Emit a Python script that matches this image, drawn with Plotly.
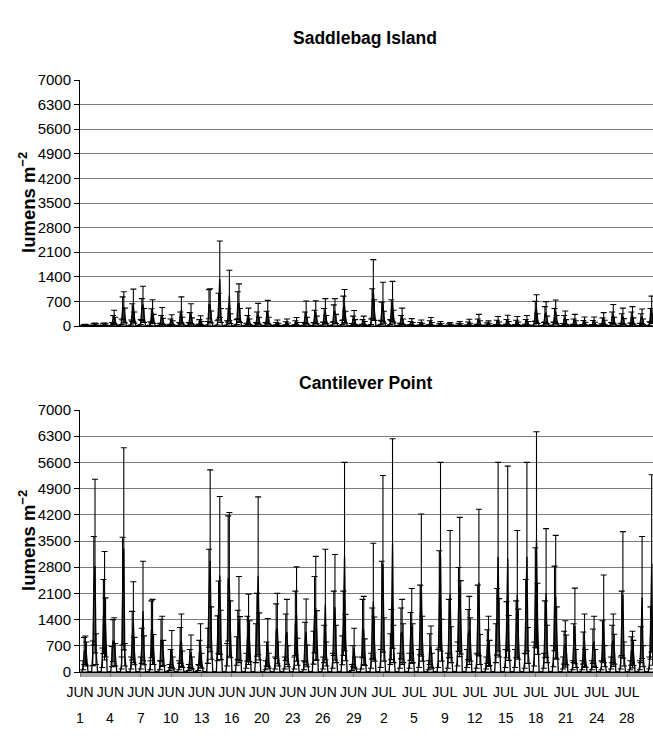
import plotly.graph_objects as go

# ---------------- data ----------------
MONTH_LABELS = ["JUN"] * 10 + ["JUL"] * 9
DAY_LABELS = ["1", "4", "7", "10", "13", "16", "20", "23", "26", "29",
              "2", "5", "9", "12", "15", "18", "21", "24", "28"]
N_DAYS = 60                    # JUN 1 ... JUL 30
HOURS = [8, 10.5, 13.5, 16]    # sampled daylight hours
DARK_HOURS = [5, 20]           # light is zero before / after these

# Saddlebag Island: hourly means and SD per day (4 daylight hours)
SADDLE_MEAN = [
    [10, 25, 30, 20], [15, 40, 50, 35], [15, 45, 50, 35], [60, 180, 250, 150],
    [120, 500, 540, 300], [100, 380, 580, 240], [110, 470, 620, 300], [70, 290, 410, 200],
    [50, 180, 290, 130], [30, 120, 180, 90], [60, 240, 460, 150], [60, 230, 350, 140],
    [30, 110, 160, 80], [80, 620, 580, 255], [90, 560, 1330, 300], [90, 300, 870, 210],
    [110, 590, 660, 300], [50, 180, 280, 120], [60, 240, 350, 150], [60, 250, 400, 150],
    [15, 60, 90, 50], [20, 70, 110, 50], [20, 90, 130, 60], [60, 240, 390, 150],
    [60, 270, 400, 170], [70, 300, 430, 180], [70, 360, 430, 200], [100, 510, 570, 250],
    [40, 170, 240, 110], [30, 110, 150, 80], [120, 640, 1040, 450], [100, 410, 680, 250],
    [110, 450, 700, 270], [50, 180, 280, 120], [20, 80, 120, 60], [15, 60, 90, 50],
    [20, 90, 130, 60], [10, 50, 70, 40], [10, 40, 55, 30], [10, 50, 70, 40],
    [20, 70, 100, 50], [30, 120, 180, 90], [15, 55, 80, 40], [25, 100, 150, 70],
    [30, 110, 170, 80], [25, 100, 150, 70], [30, 110, 165, 80], [80, 420, 490, 210],
    [60, 330, 380, 170], [70, 300, 410, 180], [40, 180, 230, 110], [30, 120, 180, 90],
    [25, 95, 140, 65], [25, 95, 140, 65], [35, 140, 210, 100], [60, 240, 340, 150],
    [50, 210, 280, 130], [50, 240, 300, 140], [45, 210, 270, 120], [70, 300, 470, 200],
]
SADDLE_SD = [
    [10, 15, 20, 15], [10, 30, 35, 25], [10, 30, 35, 25], [40, 120, 200, 100],
    [80, 330, 435, 210], [70, 255, 470, 160], [70, 310, 510, 200], [50, 200, 335, 130],
    [30, 120, 235, 90], [20, 80, 140, 60], [40, 160, 370, 100], [40, 150, 285, 90],
    [20, 70, 130, 50], [50, 415, 480, 170], [60, 370, 1090, 200], [60, 190, 715, 140],
    [70, 385, 540, 200], [30, 120, 230, 80], [40, 160, 295, 100], [40, 170, 330, 100],
    [10, 40, 80, 30], [10, 50, 90, 35], [15, 60, 110, 40], [40, 160, 320, 100],
    [40, 180, 320, 110], [40, 200, 350, 120], [40, 240, 350, 130], [60, 340, 470, 170],
    [30, 110, 200, 70], [20, 70, 130, 50], [80, 420, 850, 295], [60, 270, 565, 170],
    [70, 295, 570, 180], [30, 120, 230, 80], [15, 50, 90, 40], [10, 40, 80, 30],
    [15, 60, 110, 40], [10, 30, 60, 25], [10, 25, 45, 20], [10, 30, 60, 25],
    [10, 45, 90, 30], [20, 80, 150, 60], [10, 35, 65, 25], [15, 65, 120, 45],
    [20, 75, 135, 50], [15, 65, 120, 45], [20, 75, 135, 50], [50, 280, 400, 140],
    [40, 220, 315, 110], [40, 200, 330, 120], [30, 120, 195, 70], [20, 80, 150, 60],
    [15, 60, 115, 40], [15, 60, 115, 40], [25, 90, 170, 65], [40, 160, 270, 100],
    [30, 140, 230, 80], [35, 160, 250, 90], [30, 140, 215, 80], [50, 200, 380, 130],
]

# Cantilever Point
CANT_MEAN = [
    [180, 560, 580, 480], [500, 2170, 2830, 610], [380, 1480, 1770, 1190], [410, 840, 800, 460],
    [240, 2160, 3290, 460], [240, 970, 1330, 560], [240, 700, 1630, 580], [180, 1140, 1070, 600],
    [180, 850, 820, 510], [120, 360, 610, 240], [180, 710, 850, 340], [120, 360, 540, 240],
    [120, 510, 710, 300], [700, 1970, 2970, 1040], [900, 1460, 2580, 990], [460, 2500, 2340, 1140],
    [560, 990, 1400, 890], [300, 890, 1140, 820], [770, 1260, 2570, 950], [180, 480, 790, 300],
    [240, 1090, 1160, 480], [240, 930, 1070, 420], [240, 1300, 1550, 540], [180, 800, 1070, 430],
    [650, 1530, 1700, 980], [240, 750, 1800, 480], [300, 1300, 1730, 750], [580, 1300, 3080, 920],
    [120, 420, 640, 240], [240, 1160, 1110, 530], [300, 1030, 1890, 880], [360, 1780, 2890, 870],
    [610, 1000, 3430, 750], [300, 1030, 1070, 770], [300, 950, 1230, 770], [360, 1390, 2320, 890],
    [180, 610, 680, 300], [360, 1940, 3080, 850], [300, 1160, 2080, 730], [480, 1670, 2270, 1460],
    [360, 1000, 1110, 870], [300, 1390, 2390, 600], [240, 680, 820, 510], [770, 1340, 3080, 1180],
    [360, 1130, 3030, 910], [360, 1140, 2080, 1010], [300, 1480, 3080, 710], [480, 1990, 3530, 1420],
    [300, 1140, 2110, 750], [420, 1700, 2010, 1040], [240, 650, 750, 590], [180, 770, 1230, 360],
    [180, 640, 850, 360], [180, 690, 820, 360], [180, 820, 1420, 420], [240, 750, 850, 610],
    [240, 1300, 2060, 480], [180, 560, 600, 510], [180, 730, 1990, 420], [240, 1040, 2900, 540],
]
CANT_SD = [
    [120, 365, 380, 320], [330, 1450, 2320, 410], [260, 990, 1450, 790], [270, 560, 650, 300],
    [160, 1440, 2700, 300], [160, 650, 1080, 365], [160, 470, 1330, 385], [120, 760, 870, 400],
    [120, 560, 670, 335], [80, 240, 500, 160], [120, 480, 700, 220], [80, 240, 450, 160],
    [80, 335, 580, 200], [470, 1310, 2430, 700], [600, 970, 2110, 660], [300, 1670, 1920, 760],
    [380, 660, 1150, 590], [200, 600, 940, 550], [520, 840, 2110, 630], [120, 320, 640, 200],
    [160, 730, 940, 320], [160, 620, 870, 280], [160, 860, 1260, 360], [120, 530, 880, 290],
    [440, 1020, 1390, 660], [160, 500, 1480, 320], [200, 860, 1410, 500], [385, 860, 2520, 620],
    [80, 280, 530, 160], [160, 780, 910, 355], [200, 680, 1550, 590], [240, 1180, 2360, 580],
    [410, 670, 2800, 500], [200, 680, 870, 520], [200, 640, 1000, 520], [240, 930, 1900, 600],
    [120, 410, 550, 200], [240, 1300, 2520, 560], [200, 780, 1700, 480], [320, 1120, 1860, 980],
    [240, 670, 910, 580], [200, 930, 1960, 400], [160, 450, 670, 335], [520, 890, 2520, 780],
    [240, 750, 2470, 600], [240, 760, 1700, 670], [200, 990, 2520, 480], [320, 1330, 2890, 950],
    [200, 760, 1720, 500], [280, 1130, 1640, 700], [160, 440, 620, 400], [120, 520, 1010, 240],
    [120, 430, 700, 240], [120, 460, 670, 240], [120, 550, 1170, 280], [160, 500, 700, 400],
    [160, 860, 1690, 320], [120, 380, 490, 335], [120, 480, 1630, 280], [160, 700, 2370, 360],
]

Y_TICKS = [0, 700, 1400, 2100, 2800, 3500, 4200, 4900, 5600, 6300, 7000]


def build(means, sds):
    xs, ys, es = [], [], []
    for d, (m, s) in enumerate(zip(means, sds)):
        xs.append(d + DARK_HOURS[0] / 24); ys.append(0); es.append(0)
        for h, mv, sv in zip(HOURS, m, s):
            xs.append(d + h / 24); ys.append(mv); es.append(sv)
        xs.append(d + DARK_HOURS[1] / 24); ys.append(0); es.append(0)
    return xs, ys, es


W, H = 653, 755
FONT = "Liberation Sans, Arial, sans-serif"
NARROW = "Liberation Sans Narrow, Arial Narrow, Liberation Sans, Arial, sans-serif"

fig = go.Figure()
for (means, sds), xa, ya in [((SADDLE_MEAN, SADDLE_SD), "x", "y"),
                            ((CANT_MEAN, CANT_SD), "x2", "y2")]:
    xs, ys, es = build(means, sds)
    fig.add_trace(go.Scatter(
        x=xs, y=ys, mode="lines", xaxis=xa, yaxis=ya,
        line=dict(color="black", width=1.3),
        error_y=dict(type="data", array=es, visible=True, color="black",
                     thickness=1.1, width=3),
        showlegend=False, hoverinfo="skip"))

n_ticks = len(DAY_LABELS)
tick_step = 57 / (n_ticks - 1)
tickvals = [i * tick_step for i in range(n_ticks)]
x_range = [0, 59.7]

def ypix(p):
    return 1 - p / H

common_y = dict(range=[0, 7000], tickvals=Y_TICKS, ticktext=[str(v) for v in Y_TICKS],
                showgrid=True, gridcolor="#7a7a7a", gridwidth=1,
                showline=True, linecolor="black", linewidth=1,
                ticks="outside", ticklen=5, tickcolor="black",
                tickfont=dict(family=FONT, size=15, color="black"),
                zeroline=False, automargin=False, fixedrange=True)

fig.update_layout(
    width=W, height=H,
    margin=dict(l=80, r=0, t=0, b=0),
    paper_bgcolor="white", plot_bgcolor="white",
    xaxis=dict(domain=[0, 1], range=x_range, anchor="y", showticklabels=False,
               showgrid=False, zeroline=False, showline=True, linecolor="black",
               ticks="", automargin=False, fixedrange=True),
    yaxis=dict(domain=[ypix(326), ypix(80)], anchor="x", **common_y),
    xaxis2=dict(domain=[0, 1], range=x_range, anchor="y2",
                tickvals=tickvals, ticktext=MONTH_LABELS,
                tickfont=dict(family=NARROW, size=14, color="black"),
                showgrid=False, zeroline=False, showline=True, linecolor="black",
                ticks="outside", ticklen=4, tickcolor="#777",
                ticklabelstandoff=3,
                minor=dict(dtick=1 / 12, tick0=0, ticks="outside", ticklen=4,
                           tickcolor="#aaa", showgrid=False),
                automargin=False, fixedrange=True),
    yaxis2=dict(domain=[ypix(672), ypix(410)], anchor="x2", **common_y),
)

# second row of the date labels (day numbers)
for v, t in zip(tickvals, DAY_LABELS):
    fig.add_annotation(x=v, y=ypix(718), xref="x2", yref="paper", text=t,
                       showarrow=False, xanchor="center", yanchor="middle",
                       font=dict(family=NARROW, size=14, color="black"))

# titles
for txt, yp in [("Saddlebag Island", 38), ("Cantilever Point", 383)]:
    fig.add_annotation(x=(365 - 80) / (W - 80), y=ypix(yp), xref="paper", yref="paper",
                       text="<b>%s</b>" % txt, showarrow=False,
                       xanchor="center", yanchor="middle",
                       font=dict(family=FONT, size=17.5, color="black"))
for yp in [(80 + 326) / 2, (410 + 672) / 2]:
    fig.add_annotation(x=(27 - 80) / (W - 80), y=ypix(yp), xref="paper", yref="paper",
                       text="<b>lumens m<sup>\u22122</sup></b>", textangle=-90,
                       showarrow=False, xanchor="center", yanchor="middle",
                       font=dict(family=FONT, size=18.5, color="black"))

fig.write_html("out.html", config={"displayModeBar": False},
               post_script="document.body.style.margin='0px';")
